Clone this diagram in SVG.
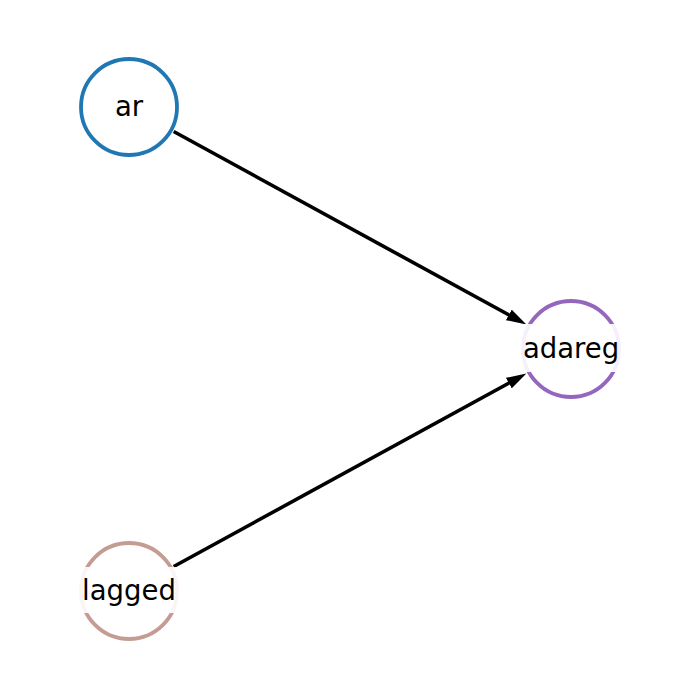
<svg xmlns="http://www.w3.org/2000/svg" width="700" height="700" viewBox="0 0 700 700">
<style>
.node circle{fill:#ffffff;stroke-width:3.8}
.lbl{font-family:"DejaVu Sans",sans-serif;font-size:27.5px;fill:#000000;text-anchor:middle}
.box{fill:#ffffff;fill-opacity:0.9;stroke:none}
.edge{stroke:#000000;stroke-width:3.6;fill:none;marker-end:url(#arr)}
</style>
<defs>
<marker id="arr" viewBox="0 0 20 13" refX="6" refY="6.5" markerWidth="20" markerHeight="13" markerUnits="userSpaceOnUse" orient="auto">
<path d="M0,0.5 L20,6.5 L0,12.5 z" fill="#000000"/>
</marker>
</defs>
<rect width="700" height="700" fill="#ffffff"/>
<g id="edges">
<line class="edge" x1="173.7" y1="131.5" x2="514.1" y2="317.8"/>
<line class="edge" x1="173.7" y1="566.5" x2="514.1" y2="380.2"/>
</g>
<g id="node-ar" class="node">
<circle cx="129" cy="107" r="48" stroke="#1f77b4"/>
<rect class="box" x="104" y="83" width="50" height="48"/>
<text class="lbl" x="129" y="116">ar</text>
</g>
<g id="node-adareg" class="node">
<circle cx="571" cy="349" r="48" stroke="#9467bd"/>
<rect class="box" x="513" y="324" width="116" height="48"/>
<text class="lbl" x="571" y="358">adareg</text>
</g>
<g id="node-lagged" class="node">
<circle cx="129" cy="591" r="48" stroke="#c49c94"/>
<rect class="box" x="73" y="567" width="112" height="46"/>
<text class="lbl" x="129" y="600">lagged</text>
</g>
</svg>
